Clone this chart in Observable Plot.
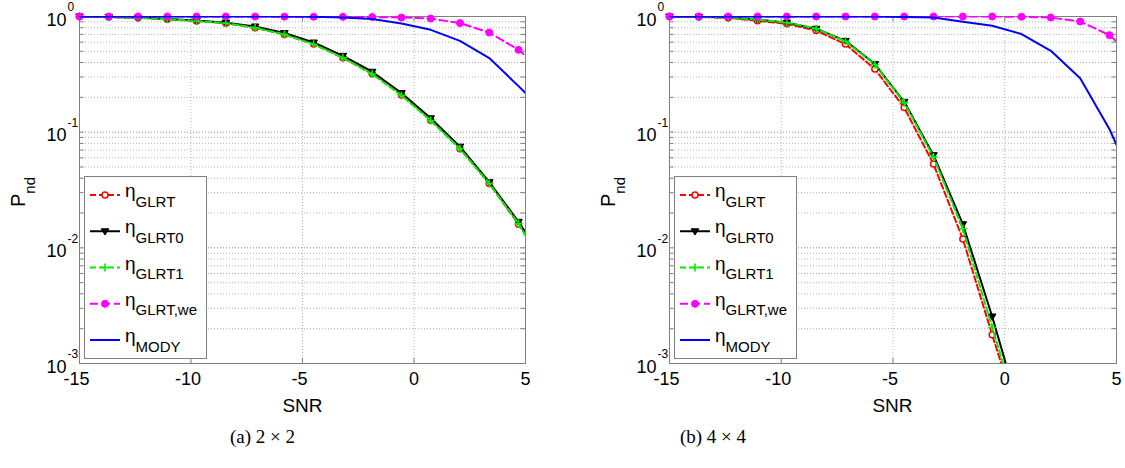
<!DOCTYPE html>
<html><head><meta charset="utf-8">
<script src="https://cdn.jsdelivr.net/npm/d3@7"></script>
<script src="https://cdn.jsdelivr.net/npm/@observablehq/plot@0.6"></script>
<style>
body{margin:0;background:#fff;}
#wrap{position:relative;width:1125px;height:468px;overflow:hidden;background:#fff;}
#wrap > svg{position:absolute;top:0;}
</style></head><body><div id="wrap"></div>
<script>
// ---------- data ----------
const snr = [-15, -13.6875, -12.375, -11.0625, -9.75, -8.4375, -7.125, -5.8125, -4.5, -3.1875, -1.875, -0.5625, 0.75, 2.0625, 3.375, 4.6875, 5];
const nMarked = 16;

// (a) 2 x 2
const glrtA   = [1.0, 0.99, 0.975, 0.945, 0.915, 0.875, 0.80, 0.70, 0.578, 0.44, 0.32, 0.21, 0.127, 0.072, 0.036, 0.016, 0.013];
const glrt0A  = [1.0, 0.99, 0.978, 0.952, 0.925, 0.885, 0.82, 0.72, 0.596, 0.457, 0.333, 0.218, 0.132, 0.075, 0.037, 0.0168, 0.0136];
const glrt1A  = [1.0, 0.99, 0.975, 0.945, 0.915, 0.875, 0.80, 0.70, 0.575, 0.44, 0.318, 0.208, 0.126, 0.072, 0.036, 0.0162, 0.0128];
const glrtWeA = [1.0, 1.0, 1.0, 1.0, 1.0, 1.0, 0.998, 0.997, 0.995, 0.994, 0.99, 0.98, 0.96, 0.877, 0.727, 0.515, 0.457];
const modyA   = [1.0, 1.0, 1.0, 1.0, 1.0, 1.0, 1.0, 0.998, 0.994, 0.98, 0.95, 0.87, 0.767, 0.616, 0.437, 0.25, 0.218];

// (b) 4 x 4
const glrtB   = [1.0, 0.99, 0.975, 0.918, 0.865, 0.755, 0.577, 0.351, 0.163, 0.053, 0.0119, 0.00177, 0.00028];
const glrt0B  = [1.0, 0.994, 0.98, 0.94, 0.882, 0.783, 0.616, 0.388, 0.183, 0.0633, 0.016, 0.00255, 0.00034];
const glrt1B  = [1.0, 0.994, 0.98, 0.94, 0.885, 0.785, 0.61, 0.385, 0.18, 0.061, 0.0146, 0.00205, 0.0003];
const glrtWeB = [1.0, 1.0, 1.0, 1.0, 1.0, 1.0, 1.0, 1.0, 1.0, 1.0, 1.0, 1.0, 0.994, 0.98, 0.905, 0.69, 0.608];
const modyB   = [1.0, 1.0, 1.0, 1.0, 1.0, 1.0, 1.0, 1.0, 0.99, 0.98, 0.90, 0.831, 0.705, 0.505, 0.293, 0.106, 0.0778];

const legendLabels = ["GLRT", "GLRT0", "GLRT1", "GLRT,we", "MODY"];
const yMajor = [0.001, 0.01, 0.1, 1];
const yExpLabels = ["-3", "-2", "-1", "0"];
const xTicks = [-15, -10, -5, 0, 5];
const xTickLabels = ["-15", "-10", "-5", "0", "5"];
const xGrid = [-10, -5, 0];
const captions = ["(a) 2 \u00d7 2", "(b) 4 \u00d7 4"];
const xLabel = "SNR";

// ---------- styles ----------
const triDown = {draw(ctx, size){ const r = Math.sqrt(size/Math.PI); ctx.moveTo(-r, -0.65*r); ctx.lineTo(r, -0.65*r); ctx.lineTo(0, r); ctx.closePath(); }};
const plusSym = {draw(ctx, size){ const r = Math.sqrt(size/Math.PI); ctx.moveTo(-r, 0); ctx.lineTo(r, 0); ctx.moveTo(0, -r); ctx.lineTo(0, r); }};
const styles = [
  {color:"#ff0000", dash:"6,3",  symbol:"circle", d3sym:d3.symbolCircle, r:3,   fill:"#ffffff", sw:1.5},
  {color:"#000000", dash:null,   symbol:triDown,  d3sym:triDown,         r:3.8, fill:"#000000", sw:1},
  {color:"#00ee00", dash:"6,3",  symbol:plusSym,  d3sym:plusSym,         r:4,   fill:"none",    sw:1.6},
  {color:"#ff00ff", dash:"8,4",  symbol:"circle", d3sym:d3.symbolCircle, r:3.5, fill:"#ff00ff", sw:1},
  {color:"#0000ff", dash:null,   symbol:null}
];
const FONT = '"Liberation Sans", Arial, Helvetica, sans-serif';

function buildPanel(vals, width, mRight) {
  const yMinor = [];
  yMajor.slice(0, -1).forEach(d => { for (let m = 2; m <= 9; m++) yMinor.push(d * m); });
  const yAll = yMajor.concat(yMinor);
  const marks = [
    Plot.ruleY(yMinor, {stroke:"#b5b5b5", strokeWidth:1, strokeDasharray:"1,2"}),
    Plot.ruleY(yMajor.slice(1, 3), {stroke:"#8a8a8a", strokeWidth:1, strokeDasharray:"1,2"}),
    Plot.ruleX(xGrid, {stroke:"#b5b5b5", strokeWidth:1, strokeDasharray:"1,2"}),
    Plot.ruleY(yAll, {x1:-15, x2:-14.8, stroke:"#808080"}),
    Plot.ruleY(yAll, {x1:4.8, x2:5, stroke:"#808080"}),
    Plot.ruleX(xTicks, {y1:0.001, y2:0.00111, stroke:"#808080"}),
    Plot.ruleX(xTicks, {y1:0.9, y2:1, stroke:"#808080"}),
    Plot.frame({stroke:"#808080"})
  ];
  styles.forEach((st, i) => {
    const data = vals[i].map((v, j) => ({x: snr[j], y: v}));
    const opts = {x:"x", y:"y", stroke:st.color, strokeWidth:2, clip:true};
    if (st.dash) opts.strokeDasharray = st.dash;
    marks.push(Plot.line(data, opts));
    if (st.symbol) {
      const pts = data.slice(0, nMarked).filter(d => d.y >= 0.001);
      marks.push(Plot.dot(pts, {x:"x", y:"y", symbol:st.symbol, r:st.r, fill:st.fill, stroke:st.color, strokeWidth:st.sw}));
    }
  });
  // y tick labels 10^k
  marks.push(Plot.text(yMajor, {y:d => d, frameAnchor:"left", text:() => "10", textAnchor:"end", dx:-13, dy:3.5, fontSize:18, fill:"#000"}));
  marks.push(Plot.text(yMajor, {y:d => d, frameAnchor:"left", text:(d, i) => yExpLabels[i], textAnchor:"start", dx:-12, dy:-9, fontSize:12, fill:"#000"}));
  // x tick labels
  const neg = xTicks.map((t, i) => ({t, s:xTickLabels[i]})).filter(d => d.t < 0);
  const pos = xTicks.map((t, i) => ({t, s:xTickLabels[i]})).filter(d => d.t >= 0);
  marks.push(Plot.text(neg, {x:"t", text:"s", frameAnchor:"bottom", dy:21, dx:-3, fontSize:18, fill:"#000"}));
  marks.push(Plot.text(pos, {x:"t", text:"s", frameAnchor:"bottom", dy:21, fontSize:18, fill:"#000"}));
  return Plot.plot({
    width, height:420, marginLeft:79, marginRight:mRight, marginTop:16, marginBottom:57,
    x:{domain:[-15, 5], axis:null},
    y:{type:"log", domain:[0.001, 1], axis:null},
    style:{fontFamily:FONT, background:"transparent", overflow:"visible"},
    marks
  });
}

const wrap = document.getElementById("wrap");
const pA = buildPanel([glrtA, glrt0A, glrt1A, glrtWeA, modyA], 560, 35);
pA.style.left = "0px";
wrap.appendChild(pA);
const pB = buildPanel([glrtB, glrt0B, glrt1B, glrtWeB, modyB], 535, 9);
pB.style.left = "590px";
wrap.appendChild(pB);

// ---------- overlay: legends, labels, captions ----------
const ov = d3.select(wrap).append("svg").attr("width", 1125).attr("height", 468)
  .style("left", "0px").style("font-family", FONT);

[0, 590].forEach((ox, p) => {
  // legend
  const g = ov.append("g");
  g.append("rect").attr("x", ox + 84.5).attr("y", 176.5).attr("width", 122).attr("height", 182)
    .attr("fill", "#fff").attr("stroke", "#808080");
  styles.forEach((st, i) => {
    const yr = 195 + 36.25 * i;
    const ln = g.append("line").attr("x1", ox + 90).attr("x2", ox + 120).attr("y1", yr).attr("y2", yr)
      .attr("stroke", st.color).attr("stroke-width", 2);
    if (st.dash) ln.attr("stroke-dasharray", st.dash);
    if (st.d3sym) {
      g.append("path").attr("transform", `translate(${ox + 105},${yr})`)
        .attr("d", d3.symbol(st.d3sym, Math.PI * st.r * st.r)())
        .attr("fill", st.fill).attr("stroke", st.color).attr("stroke-width", st.sw);
    }
    const t = g.append("text").attr("x", ox + 125).attr("y", yr + 2).attr("fill", "#000");
    t.append("tspan").attr("font-size", 19).text("\u03b7");
    t.append("tspan").attr("font-size", 15).attr("dy", 9.5).text(legendLabels[i]);
  });
  // y label P_nd
  const yl = ov.append("text").attr("transform", `translate(${ox + 25},207) rotate(-90)`).attr("fill", "#000");
  yl.append("tspan").attr("font-size", 20).text("P");
  yl.append("tspan").attr("font-size", 15).attr("dy", 9.5).text("nd");
  // x label
  ov.append("text").attr("x", ox + 302.5).attr("y", 411.5).attr("text-anchor", "middle")
    .attr("font-size", 19).attr("fill", "#000").text(xLabel);
});
// captions
ov.append("text").attr("x", 262.5).attr("y", 443).attr("text-anchor", "middle")
  .attr("font-family", '"Liberation Serif", "DejaVu Serif", serif').attr("font-size", 19).text(captions[0]);
ov.append("text").attr("x", 713).attr("y", 443).attr("text-anchor", "middle")
  .attr("font-family", '"Liberation Serif", "DejaVu Serif", serif').attr("font-size", 19).text(captions[1]);
</script>
</body></html>
